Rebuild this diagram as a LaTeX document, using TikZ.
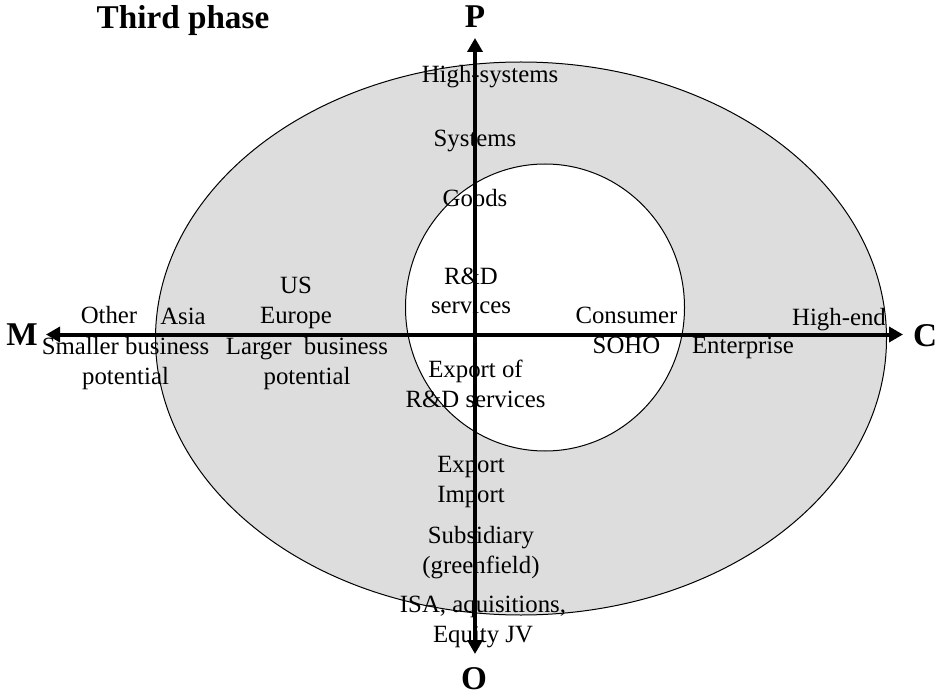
\documentclass[tikz,border=0pt]{standalone}
\usepackage{fontspec}
\setmainfont{Liberation Serif}
\usetikzlibrary{arrows.meta}
\definecolor{ringgray}{RGB}{221,221,221}
\begin{document}
\begin{tikzpicture}[x=0.5pt,y=-0.5pt,
  lbl/.style={inner sep=0pt, anchor=base, align=center, font=\fontsize{12.4}{14.8}\selectfont},
  axislbl/.style={inner sep=0pt, anchor=base, font=\fontsize{16.6}{19}\selectfont\bfseries},
  axisline/.style={line width=2pt, -{Triangle[length=7pt,width=7.5pt]}},
  ring/.style={line width=0.5pt}]
\useasboundingbox (0,0) rectangle (942,695);

% filled areas
\fill[ringgray] (521,338.5) ellipse [x radius=182.75pt, y radius=138.25pt];
\fill[white] (545,307.5) ellipse [x radius=69.75pt, y radius=71.75pt];

% title and axis letters (base anchor = last baseline)
\node[axislbl] (title) at (183,29) {Third phase};
\node[axislbl] (P) at (475,28) {P};
\node[axislbl] (O) at (474,689) {O};
\node[axislbl] (M) at (22,345) {M};
\node[axislbl] (C) at (925,346) {C};

% market axis (left)
\node[lbl] (other) at (109,323) {Other};
\node[lbl] (asia) at (183,324) {Asia};
\node[lbl] (smaller) at (125.5,384) {Smaller business\\potential};
\node[lbl] (useu) at (296,323) {US\\Europe};
\node[lbl] (larger) at (307,384) {Larger~ business\\potential};

% product axis (up)
\node[lbl] (highsys) at (490,83) {High-systems};
\node[lbl] (systems) at (475,147) {Systems};
\node[lbl] (goods) at (475,207) {Goods};
\node[lbl] (rdserv) at (471,314) {R\&D\\services};

% customer axis (right)
\node[lbl] (consumer) at (626.5,353) {Consumer\\SOHO};
\node[lbl] (enterprise) at (743,353) {Enterprise};
\node[lbl] (highend) at (839,325) {High-end};

% operation axis (down)
\node[lbl] (exportrd) at (475.5,407) {Export of\\R\&D services};
\node[lbl] (expimp) at (471,502) {Export\\Import};
\node[lbl] (subsid) at (481,573) {Subsidiary\\(greenfield)};
\node[lbl] (isa) at (483,642) {ISA, aquisitions,\\Equity JV};

% ring outlines
\draw[ring] (521,338.5) ellipse [x radius=182.75pt, y radius=138.25pt];
\draw[ring] (545,307.5) ellipse [x radius=69.75pt, y radius=71.75pt];

% axes
\coordinate (origin) at (475,334.5);
\coordinate (ptip) at (475,38);
\coordinate (otip) at (475,654);
\coordinate (mtip) at (46,334.5);
\coordinate (ctip) at (903,334.5);
\draw[axisline] (origin) -- (ptip);
\draw[axisline] (origin) -- (otip);
\draw[axisline] (origin) -- (mtip);
\draw[axisline] (origin) -- (ctip);
\end{tikzpicture}
\end{document}
